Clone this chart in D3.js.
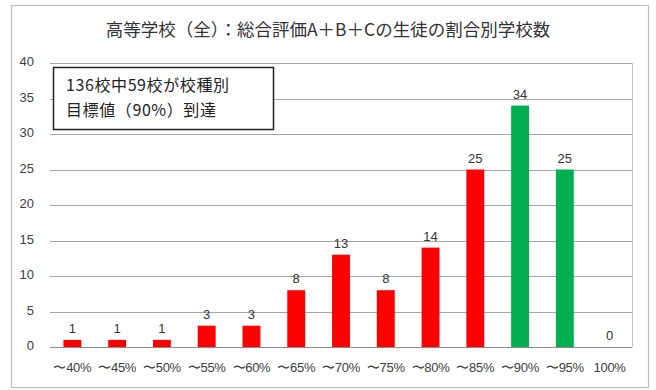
<!DOCTYPE html>
<html><head><meta charset="utf-8">
<script src="https://cdn.jsdelivr.net/npm/d3@7"></script>
<style>body{margin:0;background:#fff;}svg{display:block;font-family:"Noto Sans CJK JP","Noto Sans",sans-serif;}</style>
</head><body><svg id="c" width="656" height="390"></svg>
<script>
const categories = ["〜40%","〜45%","〜50%","〜55%","〜60%","〜65%","〜70%","〜75%","〜80%","〜85%","〜90%","〜95%","100%"];
const counts = [1,1,1,3,3,8,13,8,14,25,34,25,0];
const reached = [false,false,false,false,false,false,false,false,false,false,true,true,true];
const yTicks = [0,5,10,15,20,25,30,35,40];
const title = "高等学校（全）：総合評価A＋B＋Cの生徒の割合別学校数";
const noteLines = ["136校中59校が校種別","目標値（90%）到達"];

const svg = d3.select("#c");
const pL = 50, pR = 632, pT = 63, pB = 347;
svg.append("rect").attr("x",11.5).attr("y",5.5).attr("width",637).attr("height",382)
  .attr("fill","#fff").attr("stroke","#bdbdbd").attr("stroke-width",1.2);

const x = d3.scaleBand().domain(categories).range([pL,pR]).paddingInner(0.6).paddingOuter(0.3);
const y = d3.scaleLinear().domain([0,40]).range([pB,pT]);

svg.append("text").attr("x",328).attr("y",36).attr("text-anchor","middle")
  .attr("font-size",17.5).attr("fill","#333").text(title);

// gridlines
svg.append("g").selectAll("line").data(yTicks).join("line")
  .attr("x1",pL).attr("x2",pR).attr("y1",d=>Math.round(y(d))+0.5).attr("y2",d=>Math.round(y(d))+0.5)
  .attr("stroke",d=>d===0?"#8c8c8c":"#a6a6a6").attr("stroke-width",1);
svg.append("line").attr("x1",pR+0.5).attr("x2",pR+0.5).attr("y1",Math.round(y(40))).attr("y2",Math.round(y(0)))
  .attr("stroke","#bfbfbf");

// y axis labels
const yAxis = d3.axisLeft(y).tickValues(yTicks).tickSize(0).tickPadding(0);
const ya = svg.append("g").attr("transform",`translate(${pL-16},0)`).call(yAxis);
ya.select(".domain").remove();
ya.selectAll("text").attr("font-size",13).attr("fill","#404040").attr("font-family","Liberation Sans, Arial, sans-serif").attr("dy","0.2em");

// x axis labels
const xAxis = d3.axisBottom(x).tickSize(0).tickPadding(0);
const xa = svg.append("g").attr("transform",`translate(0,${pB+16})`).call(xAxis);
xa.select(".domain").remove();
xa.selectAll("text").attr("font-size",13).attr("fill","#404040").attr("dy","0.71em").attr("letter-spacing",-0.3);

// bars
svg.append("g").selectAll("rect").data(categories).join("rect")
  .attr("x",d=>x(d)).attr("width",x.bandwidth())
  .attr("y",(d,i)=>y(counts[i])).attr("height",(d,i)=>y(0)-y(counts[i]))
  .attr("fill",(d,i)=>reached[i]?"#00b050":"#ff0000");

// value labels
svg.append("g").selectAll("text").data(categories).join("text")
  .attr("x",d=>x(d)+x.bandwidth()/2).attr("y",(d,i)=>y(counts[i])-7)
  .attr("text-anchor","middle").attr("font-size",13).attr("fill","#333")
  .attr("font-family","Liberation Sans, Arial, sans-serif")
  .text((d,i)=>counts[i]);

// note box
svg.append("rect").attr("x",53.5).attr("y",67.5).attr("width",220).attr("height",62)
  .attr("fill","#fff").attr("stroke","#222").attr("stroke-width",1.5);
svg.append("g").selectAll("text").data(noteLines).join("text")
  .attr("x",66).attr("y",(d,i)=>91+i*25).attr("font-size",16).attr("letter-spacing",0.6)
  .attr("fill","#222").text(d=>d);
</script>
</body></html>
